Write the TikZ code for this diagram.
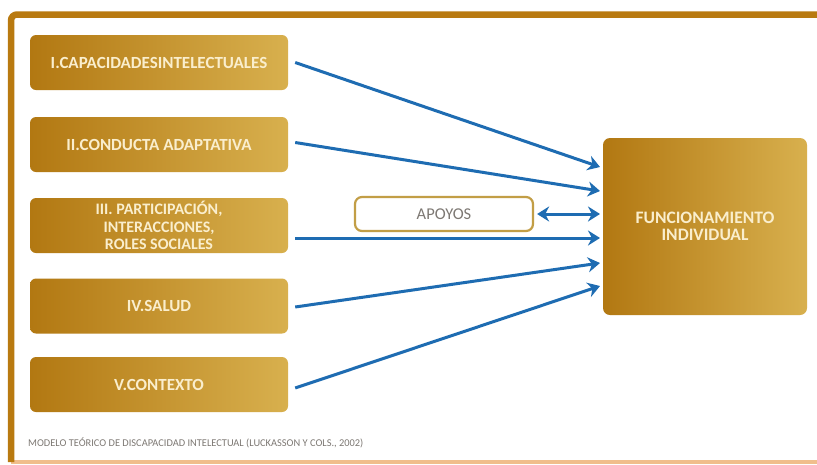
\documentclass[tikz,border=0pt]{standalone}
\usepackage{fontspec}
\setmainfont{Carlito}
\usetikzlibrary{arrows.meta}
\definecolor{golddark}{RGB}{178,120,18}
\definecolor{goldlight}{RGB}{216,176,78}
\definecolor{frameC}{RGB}{185,122,16}
\definecolor{frameB}{RGB}{240,190,140}
\definecolor{arrowC}{RGB}{30,108,178}
\definecolor{boxtxt}{RGB}{250,238,205}
\definecolor{captxt}{RGB}{125,120,115}
\tikzset{
  factor/.style={rectangle, rounded corners=6pt, minimum width=258pt, minimum height=55pt,
    left color=golddark, right color=goldlight, draw=none, text=boxtxt,
    font=\bfseries\fontsize{17}{17}\selectfont, align=center, inner sep=0pt},
  mainbox/.style={rectangle, rounded corners=7pt, minimum width=204pt, minimum height=177pt,
    left color=golddark, right color=goldlight, draw=none, text=boxtxt,
    font=\bfseries\fontsize{17.5}{16.5}\selectfont, align=center, inner sep=0pt},
  supbox/.style={rectangle, rounded corners=7pt, minimum width=178pt, minimum height=34pt,
    draw=goldlight!90!black, line width=2.2pt, fill=white, text=captxt,
    font=\fontsize{16.5}{18}\selectfont, inner sep=0pt},
  flow/.style={draw=arrowC, line width=3pt, -{Stealth[length=12pt,width=15pt]}},
  flow2/.style={draw=arrowC, line width=3pt, {Stealth[length=12pt,width=15pt]}-{Stealth[length=12pt,width=15pt]}}
}
\begin{document}
\begin{tikzpicture}[x=1pt,y=-1pt]
\useasboundingbox (0,0) rectangle (817,464);
\fill[white] (0,0) rectangle (817,464);
% frame
\begin{scope}
\clip (0,0) rectangle (817,464);
\draw[frameB, line width=4pt] (11,462) -- (830,462);
\draw[frameC, line width=6.5pt, rounded corners=6pt] (830,14.5) -- (11,14.5) -- (11,462);
\end{scope}
% factor boxes
\node[factor] (c1) at (159,62.5) {I.CAPACIDADESINTELECTUALES};
\node[factor] (c2) at (159,144.5) {II.CONDUCTA ADAPTATIVA};
\node[factor, font=\bfseries\fontsize{16}{17.5}\selectfont] (c3) at (159,225.5) {III. PARTICIPACIÓN,\\INTERACCIONES,\\ROLES SOCIALES};
\node[factor] (c4) at (159,306) {IV.SALUD};
\node[factor] (c5) at (159,384.5) {V.CONTEXTO};
\node[mainbox] (f) at (705,226.5) {FUNCIONAMIENTO\\INDIVIDUAL};
\node[supbox] (a) at (444,214) {APOYOS};
% arrows
\coordinate (t1) at (600,167);
\coordinate (t2) at (600,191);
\coordinate (t3) at (600,238);
\coordinate (t4) at (600,263);
\coordinate (t5) at (600,286);
\draw[flow] ([xshift=7pt]c1.east) -- (t1);
\draw[flow] ([xshift=7pt,yshift=2pt]c2.east) -- (t2);
\draw[flow] ([xshift=7pt,yshift=-12.5pt]c3.east) -- (t3);
\draw[flow] ([xshift=7pt,yshift=-1pt]c4.east) -- (t4);
\draw[flow] ([xshift=7pt,yshift=-3.5pt]c5.east) -- (t5);
\draw[flow2] ([xshift=3pt]a.east) -- (a.east -| t1);
% caption
\node[anchor=west, text=captxt, font=\fontsize{10.4}{12}\selectfont, inner sep=0pt] (cap) at (28,443) {MODELO TEÓRICO DE DISCAPACIDAD INTELECTUAL (LUCKASSON Y COLS., 2002)};
\end{tikzpicture}
\end{document}
